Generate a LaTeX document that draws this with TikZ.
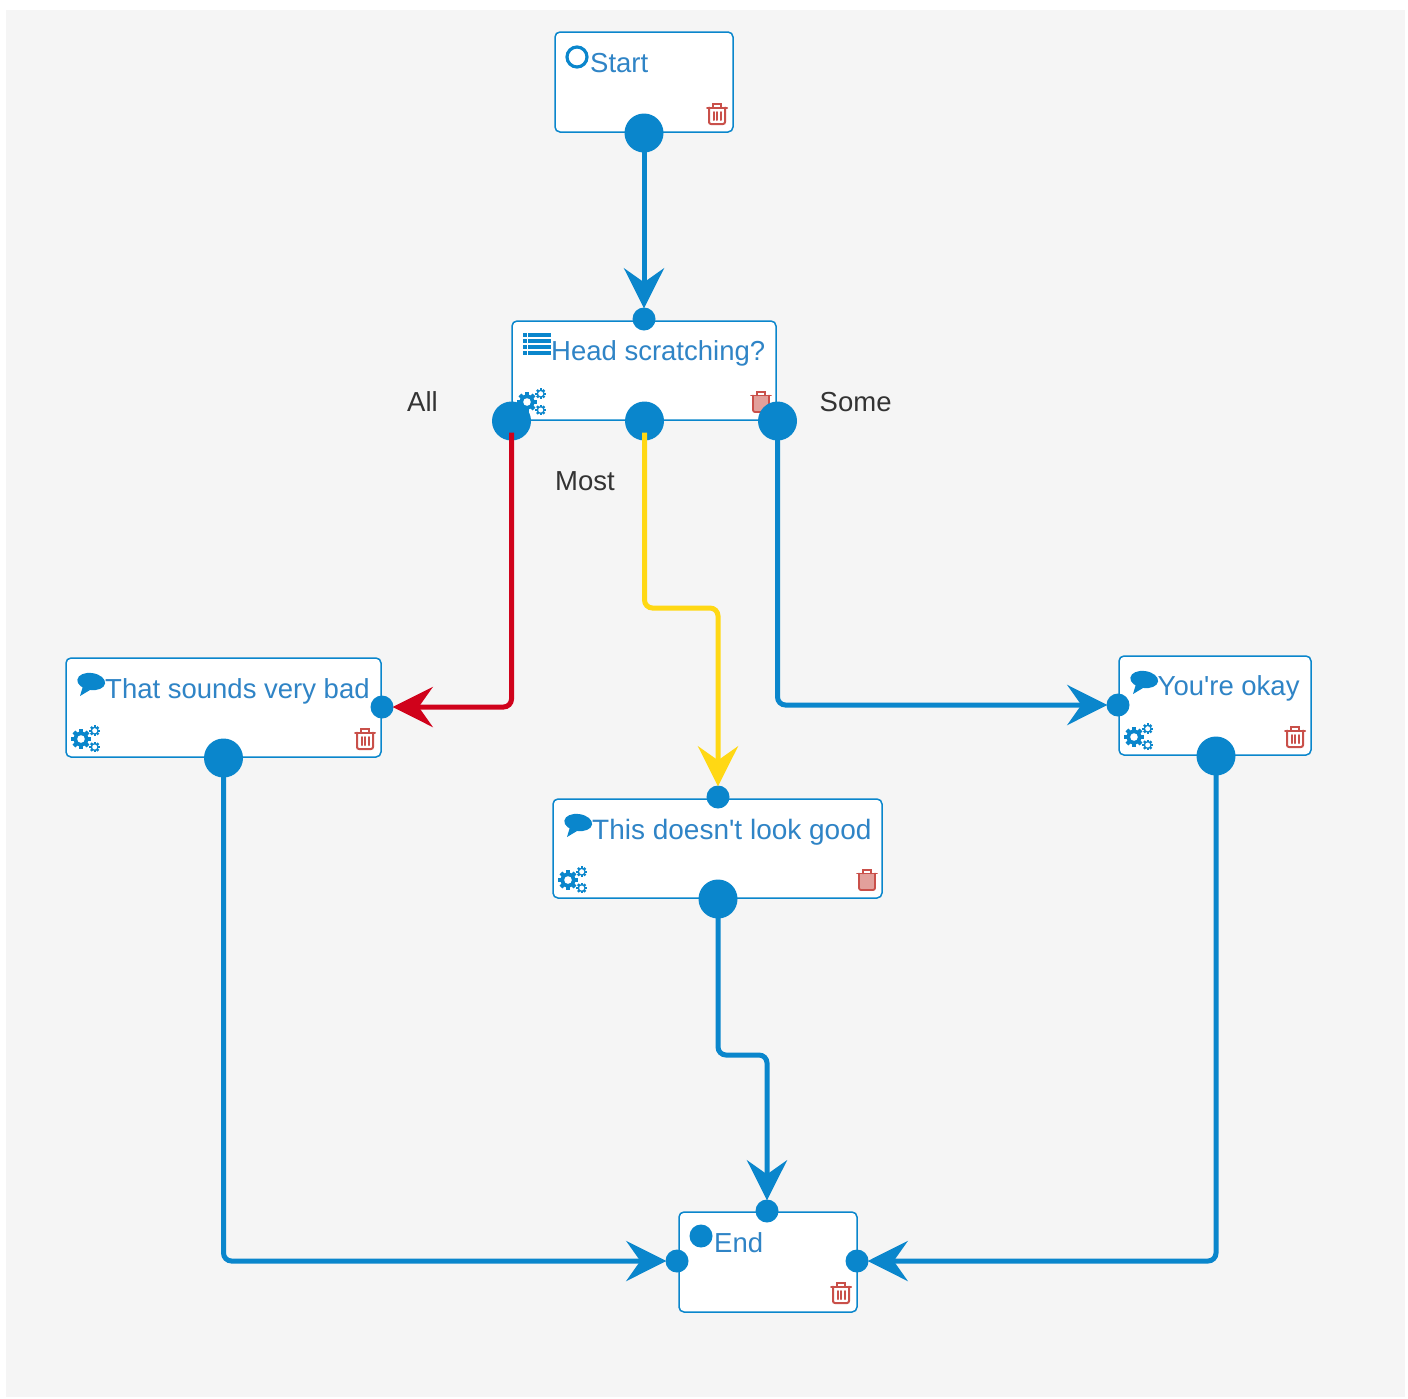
\documentclass[tikz,border=0pt]{standalone}
\usepackage{fontspec}
\setmainfont{Liberation Sans}
\newfontfamily\plainsans{Liberation Sans}
\usetikzlibrary{arrows.meta}
\definecolor{flowblue}{HTML}{0A86CC}
\definecolor{textblue}{HTML}{2F84C6}
\definecolor{flowred}{HTML}{D0021B}
\definecolor{flowyellow}{HTML}{FFD814}
\definecolor{trashred}{HTML}{C9504A}
\definecolor{trashpink}{HTML}{E2A09B}
\definecolor{panel}{HTML}{F5F5F5}
\definecolor{labelgrey}{HTML}{333333}
\tikzset{
  x=1pt,y=-1pt,
  card/.style={draw=flowblue,fill=white,line width=1.5pt,rounded corners=5pt,inner sep=0pt},
  bigport/.style={circle,fill=flowblue,minimum size=39pt,inner sep=0pt},
  smallport/.style={circle,fill=flowblue,minimum size=23pt,inner sep=0pt},
  title/.style={anchor=base west,inner sep=0pt,text=textblue,font=\plainsans\fontsize{27.5}{30}\selectfont},
  branch/.style={anchor=base west,inner sep=0pt,text=labelgrey,font=\plainsans\fontsize{27.5}{30}\selectfont},
  link/.style={line width=5pt,rounded corners=8pt,shorten <=-8pt,shorten >=-1pt,-{Stealth[length=40pt,width=40pt,inset=14pt]}},
  trashcan/.pic={
    \begin{scope}[draw=trashred,line width=2pt,line cap=round]
      \draw (-10,-6.5) -- (10,-6.5);
      \draw (-4,-6.5) -- (-4,-10) -- (4,-10) -- (4,-6.5);
      \draw[rounded corners=2pt] (-8,-6.5) -- (-8,10) -- (8,10) -- (8,-6.5);
      \draw (-3.5,-2) -- (-3.5,6) (0,-2) -- (0,6) (3.5,-2) -- (3.5,6);
    \end{scope}
  },
  trashfull/.pic={
    \begin{scope}[draw=trashred,line width=1.8pt,line cap=round]
      \fill[trashpink,rounded corners=2pt] (-8,-6.5) -- (-8,10) -- (8,10) -- (8,-6.5) -- cycle;
      \draw (-10,-6.5) -- (10,-6.5);
      \draw (-4,-6.5) -- (-4,-10) -- (4,-10) -- (4,-6.5);
      \draw[rounded corners=2pt] (-8,-6.5) -- (-8,10) -- (8,10) -- (8,-6.5);
    \end{scope}
  },
  gears/.pic={
    \foreach \a in {0,45,...,315}{
      \fill[flowblue,rotate around={\a:(-5,0)}] (-7,-10) rectangle (-3,0);
      \fill[flowblue,rotate around={\a:(8.7,-8.3)}] (7.5,-13.6) rectangle (9.9,-8.3);
      \fill[flowblue,rotate around={\a:(8.7,8)}] (7.5,2.7) rectangle (9.9,8);
    }
    \fill[flowblue] (-5,0) circle (7.5);
    \fill[white] (-5,0) circle (3.8);
    \fill[flowblue] (8.7,-8.3) circle (4);
    \fill[white] (8.7,-8.3) circle (2.5);
    \fill[flowblue] (8.7,8) circle (4);
    \fill[white] (8.7,8) circle (2.5);
  },
  bubble/.pic={
    \fill[flowblue,rotate=-8] (0,-1.5) ellipse (14 and 8.5);
    \fill[flowblue] (-8,3) -- (-11,13) -- (-1,7) -- cycle;
  },
  listicon/.pic={
    \foreach \yy in {-9.5,-3.5,2.5,8.5}{
      \fill[flowblue] (-14,\yy-2) rectangle (-10.5,\yy+2);
      \fill[flowblue] (-9,\yy-2) rectangle (14,\yy+2);
    }
  }
}
\begin{document}
\begin{tikzpicture}
\useasboundingbox (0,0) rectangle (1408,1398);
\fill[white] (0,0) rectangle (1408,1398);
\fill[panel] (6,10) rectangle (1405,1397);

% cards
\node[card,minimum width=178pt,minimum height=100pt] (start) at (644,82) {};
\node[card,minimum width=264pt,minimum height=99pt] (head) at (644,370.5) {};
\node[card,minimum width=315pt,minimum height=99pt] (bad) at (223.5,707.5) {};
\node[card,minimum width=329pt,minimum height=99pt] (good) at (717.5,848.5) {};
\node[card,minimum width=192pt,minimum height=99pt] (okay) at (1215,705.5) {};
\node[card,minimum width=178pt,minimum height=100pt] (end) at (768,1262) {};

% card icons
\pic at (717,114) {trashcan};
\pic at (761,402) {trashfull};
\pic at (365,739) {trashcan};
\pic at (867,880) {trashfull};
\pic at (1295,737) {trashcan};
\pic at (841,1293) {trashcan};
\pic at (532,402) {gears};
\pic at (86,739) {gears};
\pic at (573,880) {gears};
\pic at (1139,737) {gears};
\pic at (91,683) {bubble};
\pic at (578,824) {bubble};
\pic at (1144,681) {bubble};
\pic at (537,344) {listicon};
\draw[flowblue,line width=3.2pt] (577,57) circle (10);
\fill[flowblue] (701,1236) circle (11.5);

% card titles
\node[title] (tstart) at (590,72) {Start};
\node[title] (thead) at (551,360) {Head scratching?};
\node[title] (tbad) at (105,698) {That sounds very bad};
\node[title,font=\plainsans\fontsize{28}{30}\selectfont] (tgood) at (592,839) {This doesn't look good};
\node[title] (tokay) at (1157.5,695.5) {You're okay};
\node[title] (tend) at (714,1252) {End};

% branch labels
\node[branch] (lall) at (407,411) {All};
\node[branch] (lmost) at (555,490) {Most};
\node[branch] (lsome) at (819.5,411) {Some};

% ports
\node[bigport] (pstart) at (644,133) {};
\node[smallport] (pheadin) at (644,319) {};
\node[bigport] (pall) at (511.5,421) {};
\node[bigport] (pmost) at (644.5,421) {};
\node[bigport] (psome) at (777.5,421) {};
\node[smallport] (pbadin) at (382,707) {};
\node[bigport] (pbad) at (223.5,758) {};
\node[smallport] (pgoodin) at (718,797) {};
\node[bigport] (pgood) at (718,899) {};
\node[smallport] (pokayin) at (1118,705) {};
\node[bigport] (pokay) at (1216,756) {};
\node[smallport] (pendtop) at (767,1211) {};
\node[smallport] (pendleft) at (677,1261) {};
\node[smallport] (pendright) at (857,1261) {};

% bends
\coordinate (m1) at (644.5,608);
\coordinate (m2) at (718,608);
\coordinate (g1) at (718,1055);
\coordinate (g2) at (767,1055);

% connectors
\draw[link,flowblue] (pstart.south) -- (pheadin.north);
\draw[link,flowred] (pall.south) |- (pbadin.east);
\draw[link,flowyellow] (pmost.south) -- (m1) -- (m2) -- (pgoodin.north);
\draw[link,flowblue] (psome.south) |- (pokayin.west);
\draw[link,flowblue] (pbad.south) |- (pendleft.west);
\draw[link,flowblue] (pgood.south) -- (g1) -- (g2) -- (pendtop.north);
\draw[link,flowblue] (pokay.south) |- (pendright.east);
\end{tikzpicture}
\end{document}
